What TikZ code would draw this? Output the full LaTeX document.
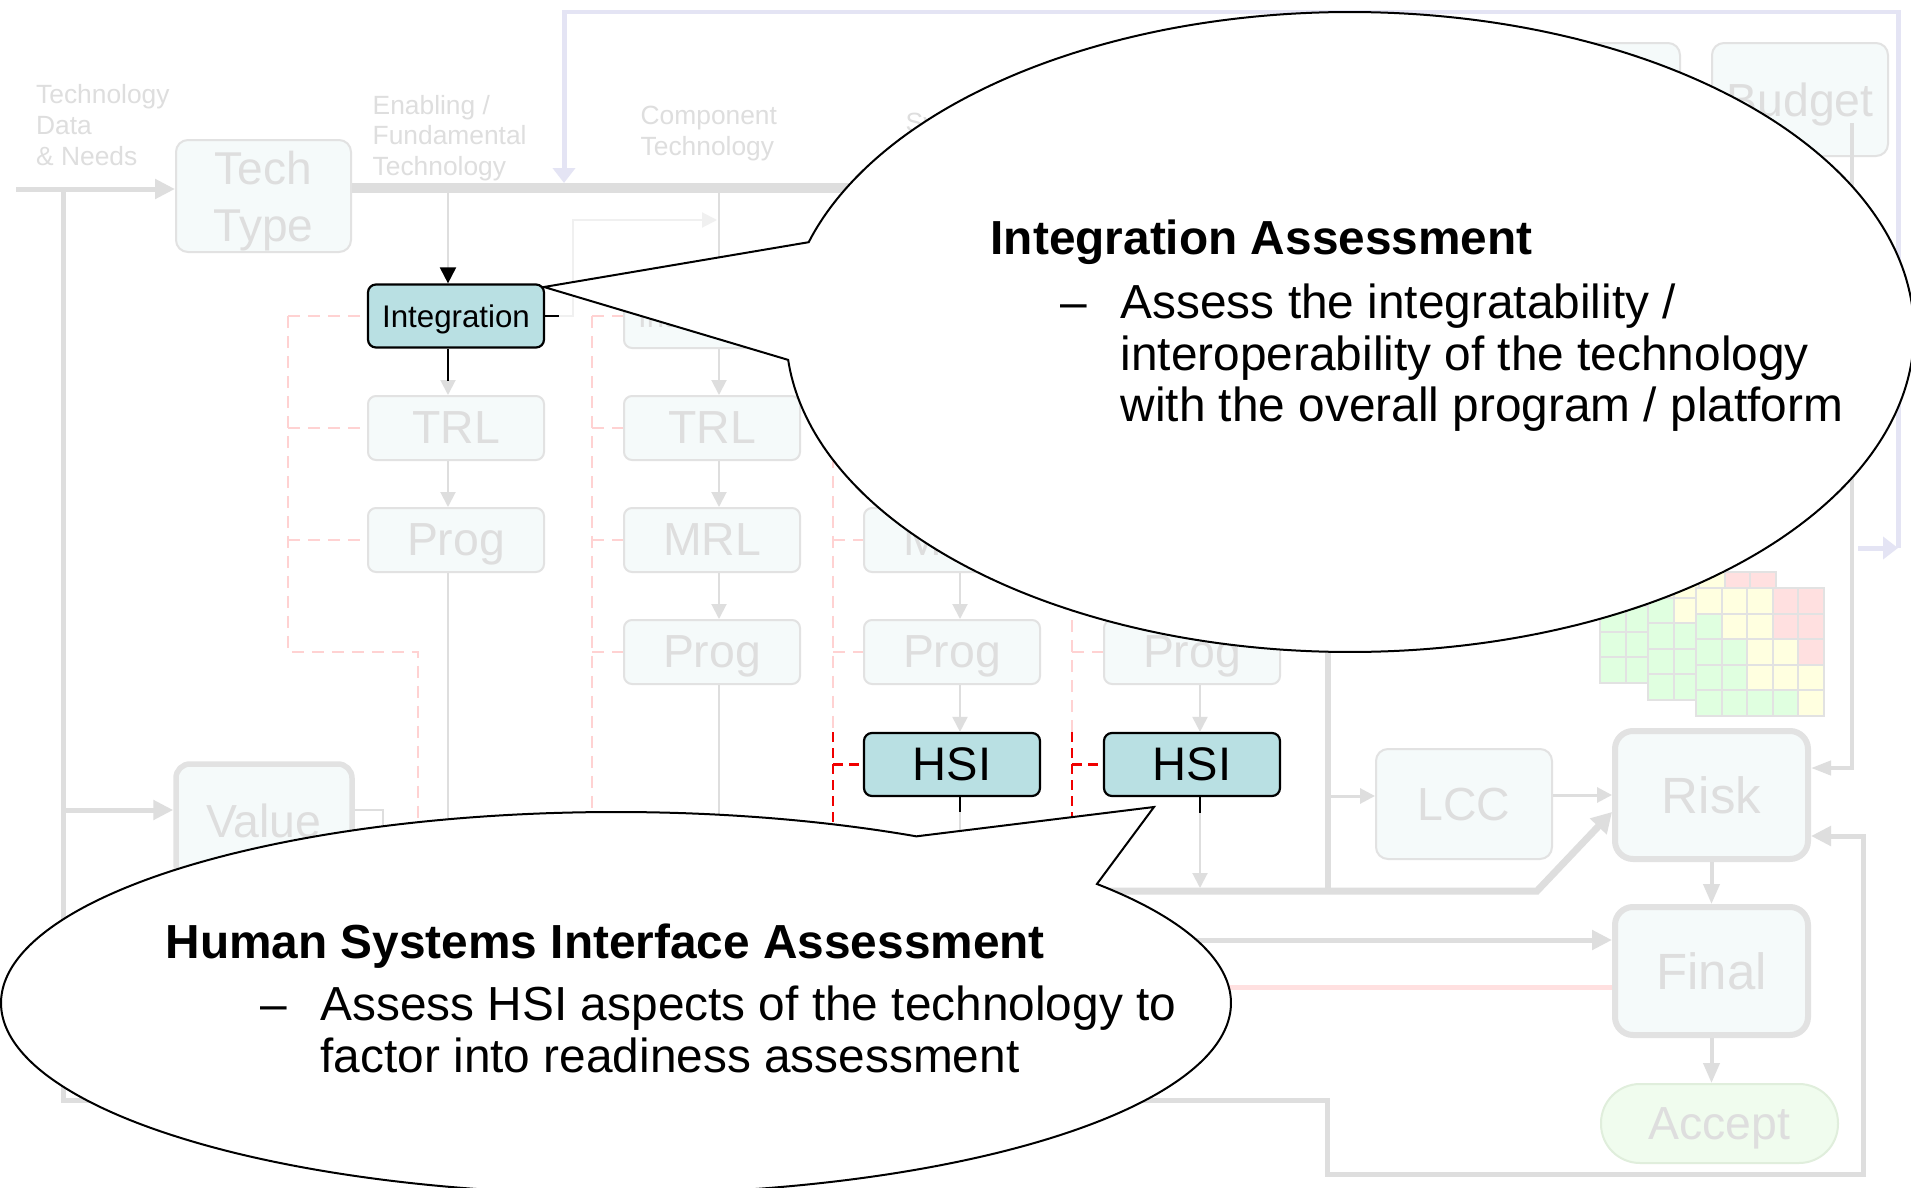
\documentclass[tikz,border=0pt]{standalone}
\usepackage{fontspec}
\setmainfont{Liberation Sans}
\usetikzlibrary{arrows.meta,calc}

\definecolor{fadeline}{HTML}{DEDEDE}
\definecolor{fadetext}{HTML}{DEDEDE}
\definecolor{fadefill}{HTML}{F5FAFA}
\definecolor{fadeborder}{HTML}{E2E2E2}
\definecolor{hilite}{HTML}{B9E0E3}
\definecolor{pinkdash}{HTML}{FFD2D2}
\definecolor{reddash}{HTML}{F00000}
\definecolor{lavender}{HTML}{E4E4F4}
\definecolor{cellG}{HTML}{E0FFE0}
\definecolor{cellY}{HTML}{FFFFE0}
\definecolor{cellP}{HTML}{FFE0E0}
\definecolor{acceptfill}{HTML}{F0FCEE}
\definecolor{acceptline}{HTML}{E0EEDC}
\definecolor{faint}{HTML}{F0F0F0}
\definecolor{pinkline}{HTML}{FFE0E0}

\begin{document}
\begin{tikzpicture}[x=0.1mm,y=-0.1mm,
  fadebox/.style={draw=fadeborder, fill=fadefill, line width=0.2mm, rounded corners=0.8mm,
    minimum width=17.6mm, minimum height=6.4mm, inner sep=0pt, text=fadetext, text depth=0pt,
    font=\fontsize{13.2}{15}\selectfont},
  hibox/.style={draw=black, fill=hilite, line width=0.22mm, rounded corners=0.8mm,
    minimum width=17.6mm, minimum height=6.3mm, inner sep=0pt, text=black, text depth=0pt,
    font=\fontsize{13.4}{15}\selectfont},
  smalllabel/.style={font=\fontsize{8.9}{10}\selectfont},
  bigbox/.style={fadebox, line width=0.6mm, rounded corners=1.8mm, minimum width=19.3mm,
    minimum height=12.8mm, font=\fontsize{14.5}{16}\selectfont},
  fadeln/.style={draw=fadeline, line width=0.2mm},
  medln/.style={draw=fadeline, line width=0.4mm},
  thickln/.style={draw=fadeline, line width=0.5mm},
  barln/.style={draw=fadeline, line width=1mm},
  hilink/.style={draw=black, line width=0.22mm},
  pinkd/.style={draw=pinkdash, line width=0.2mm, dash pattern=on 1.2mm off 0.8mm},
  redd/.style={draw=reddash, line width=0.22mm, dash pattern=on 1mm off 0.6mm},
  lav/.style={draw=lavender, line width=0.5mm},
  tipS/.style={-{Triangle[length=1.5mm,width=1.5mm]}},
  tipL/.style={-{Triangle[length=2mm,width=2mm]}},
  hdr/.style={anchor=base west, inner sep=0pt, text=fadetext, font=\fontsize{7.5}{9}\selectfont},
  cell/.style={draw=fadeborder, line width=0.2mm},
  callout/.style={draw=black, fill=white, line width=0.2mm},
  ctext/.style={anchor=base west, inner sep=0pt, text=black, font=\fontsize{13.6}{15}\selectfont},
  chead/.style={ctext, font=\fontsize{13.6}{15}\selectfont\bfseries}
]
\useasboundingbox (0,0) rectangle (1911,1188);
\clip (0,0) rectangle (1911,1188);
\fill[white] (0,0) rectangle (1911,1188);

% ---------- column guide coordinates ----------
\coordinate (c1) at (448,0);
\coordinate (c2) at (719,0);
\coordinate (c3) at (960,0);
\coordinate (c4) at (1200,0);
\coordinate (d1) at (288,0);
\coordinate (d2) at (592,0);
\coordinate (d3) at (833,0);
\coordinate (d4) at (1072,0);

% ---------- column headings ----------
\node[hdr] (h1a) at (35.5,103.4) {Technology};
\node[hdr] (h1b) at (35.5,134) {Data};
\node[hdr] (h1c) at (35.5,165.5) {\& Needs};
\node[hdr] (h2a) at (372,114) {Enabling /};
\node[hdr] (h2b) at (372,144.5) {Fundamental};
\node[hdr] (h2c) at (372,175.5) {Technology};
\node[hdr] (h3a) at (640,124.5) {Component};
\node[hdr] (h3b) at (640,155) {Technology};
\node[hdr] (h4a) at (905,131) {System};

% ---------- process boxes ----------
\node[fadebox, minimum width=17.5mm, minimum height=11.2mm, rounded corners=1.2mm,
      align=center, font=\fontsize{13.1}{16.2}\selectfont] (techtype) at (263.5,196) {Tech\\Type};
\node[fadebox, line width=0.55mm, rounded corners=1.4mm, minimum width=17.6mm,
      minimum height=11.4mm] (value) at (264,821) {Value};

\node[hibox, smalllabel] (int1) at (456,316) {Integration};
\node[fadebox] (trl1) at (456,428) {TRL};
\node[fadebox] (prog1) at (456,540) {Prog};

\node[fadebox, smalllabel] (int2) at (712,316) {Integration};
\node[fadebox] (trl2) at (712,428) {TRL};
\node[fadebox] (mrl2) at (712,540) {MRL};
\node[fadebox] (prog2) at (712,652) {Prog};

\node[fadebox] (mrl3) at (952,540) {MRL};
\node[fadebox] (prog3) at (952,652) {Prog};
\node[hibox] (hsi3) at (952,764.5) {HSI};

\node[fadebox] (prog4) at (1192,652) {Prog};
\node[hibox] (hsi4) at (1192,764.5) {HSI};

\node[fadebox, minimum height=11.3mm, rounded corners=1.2mm] (topbox) at (1592,99.5) {};
\node[fadebox, minimum height=11.3mm, rounded corners=1.2mm] (budget) at (1800,99.5) {Budget};

\node[fadebox, minimum height=11mm, rounded corners=1.2mm] (lcc) at (1464,804) {LCC};
\node[bigbox] (risk) at (1711.5,795) {Risk};
\node[bigbox] (final) at (1711.5,971) {Final};
\node[fadebox, draw=acceptline, fill=acceptfill, minimum width=23.7mm, minimum height=7.9mm,
      rounded corners=3.9mm] (accept) at (1719.5,1123.5) {Accept};

% ---------- risk matrices ----------
\foreach \ox/\oy in {1600/555,1648/572,1696/588}{
  \foreach \r/\qa/\qb/\qc/\qd/\qe in {0/Y/Y/Y/P/P,1/G/Y/Y/P/P,2/G/G/Y/Y/P,3/G/G/Y/Y/Y,4/G/G/G/G/Y}{
    \foreach \k/\qq in {0/\qa,1/\qb,2/\qc,3/\qd,4/\qe}{
      \filldraw[cell, fill=cell\qq] (\ox+25.6*\k,\oy+25.6*\r) rectangle ++(25.6,25.6);
    }
  }
}

% ---------- junction points ----------
\coordinate (split) at (63,189);
\coordinate (vsplit) at (63,810);
\coordinate (corner1) at (63,1100);
\coordinate (ret) at (0,836);
\coordinate (busL) at (0,188);
\coordinate (busend) at (1100,188);
\coordinate (bus1) at (448,193);
\coordinate (bus2) at (719,193);
\coordinate (lowbar) at (0,891);
\coordinate (bend) at (1537,891);
\coordinate (diag) at (0,812);
\coordinate (lccy) at (0,796);
\coordinate (trunk) at (1328,652);
\coordinate (bstem) at (1852,123);
\coordinate (rin) at (0,768);
\coordinate (fin) at (0,940);
\coordinate (fpink) at (0,987);
\coordinate (lavstart) at (1858,548);
\coordinate (lavcorner) at (1898,548);

% ---------- main flow ----------
\draw[thickln, -{Triangle[length=2mm,width=1.9mm]}] (16,189) -- (techtype.west |- split);
\draw[barln] (techtype.east |- busL) -- (busend);
\draw[thickln, -{Triangle[length=2mm,width=1.9mm]}] (split) -- (corner1) -- (1327,1100)
   -- (1327,1174) -- (1863,1174) -- (1863,836) -- (risk.east |- ret);
\draw[thickln, -{Triangle[length=2mm,width=1.9mm]}] (vsplit) -- (value.west |- vsplit);
\draw[fadeln] (value.east |- vsplit) -- (383,810) -- (383,900);

% lavender feedback loop
\draw[lav, -{Triangle[length=1.5mm,width=2.2mm]}] (lavcorner) -- (1898,12) -- (564,12) -- (564,183);
\draw[lav, -{Triangle[length=1.5mm,width=2.2mm]}] (lavstart) -- (lavcorner);

% column 1
\draw[fadeln, -{Triangle[length=1.6mm,width=1.6mm,color=black]}] (bus1) -- (int1.north -| c1);
\draw[fadeln, tipS] (int1.south -| c1) -- (trl1.north -| c1);
\draw[hilink] (int1.south -| c1) -- ++(0,32);
\draw[fadeln, tipS] (trl1.south -| c1) -- (prog1.north -| c1);
\draw[fadeln] (prog1.south -| c1) -- (c1 |- lowbar);
\draw[draw=faint, line width=0.2mm, -{Triangle[length=1.5mm,width=1.5mm]}]
   (559,316) -- (573,316) -- (573,220) -- (717,220);
\draw[hilink] (int1.east |- 0,316) -- (559,316);

% column 2
\draw[fadeln, tipS] (bus2) -- (int2.north -| c2);
\draw[fadeln, tipS] (int2.south -| c2) -- (trl2.north -| c2);
\draw[fadeln, tipS] (trl2.south -| c2) -- (mrl2.north -| c2);
\draw[fadeln, tipS] (mrl2.south -| c2) -- (prog2.north -| c2);
\draw[fadeln] (prog2.south -| c2) -- (c2 |- lowbar);

% column 3
\draw[fadeln, tipS] (mrl3.south -| c3) -- (prog3.north -| c3);
\draw[fadeln, tipS] (prog3.south -| c3) -- (hsi3.north -| c3);
\draw[fadeln] (hsi3.south -| c3) -- (c3 |- lowbar);
\draw[hilink] (hsi3.south -| c3) -- ++(0,15);

% column 4
\draw[fadeln, tipS] (prog4.south -| c4) -- (hsi4.north -| c4);
\draw[fadeln, tipS] (hsi4.south -| c4) -- (c4 |- 0,888);
\draw[hilink] (hsi4.south -| c4) -- ++(0,16);

% dashed side links
\draw[pinkd] (d1 |- int1.west) -- (d1 |- 0,652) -- (418,652) -- (418,900);
\foreach \n in {int1,trl1,prog1} \draw[pinkd] (d1 |- \n.west) -- (\n.west);
\draw[pinkd] (d2 |- int2.west) -- (d2 |- 0,900);
\foreach \n in {int2,trl2,mrl2,prog2} \draw[pinkd] (d2 |- \n.west) -- (\n.west);
\draw[pinkd] (d3 |- int2.west) -- (d3 |- 0,732);
\foreach \n in {mrl3,prog3} \draw[pinkd] (d3 |- \n.west) -- (\n.west);
\draw[pinkd] (d4 |- 0,560) -- (d4 |- 0,732);
\draw[pinkd] (d4 |- prog4.west) -- (prog4.west);
\draw[redd] (d3 |- 0,732) -- (d3 |- 0,840);
\draw[redd] (d3 |- hsi3.west) -- (hsi3.west);
\draw[redd] (d4 |- 0,732) -- (d4 |- 0,840);
\draw[redd] (d4 |- hsi4.west) -- (hsi4.west);

% assessment collector and roll-up
\draw[draw=fadeline, line width=0.7mm, -{Triangle[length=2mm,width=2.2mm]}]
   (c1 |- lowbar) -- (bend) -- (risk.west |- diag);
\draw[draw=fadeline, line width=0.6mm] (trunk) -- (trunk |- lowbar);
\draw[draw=fadeline, line width=0.3mm, tipS] (trunk |- lccy) -- (lcc.west |- lccy);
\draw[draw=fadeline, line width=0.3mm, tipS] (lcc.east |- 0,795) -- (risk.west |- 0,795);
\draw[medln, -{Triangle[length=2mm,width=1.6mm]}] (risk.south) -- (final.north);
\draw[medln, -{Triangle[length=2mm,width=1.6mm]}] (final.south) -- (accept.north -| final.south);
\draw[thickln, -{Triangle[length=2mm,width=1.9mm]}] (700,940) -- (final.west |- fin);
\draw[draw=pinkline, line width=0.5mm] (700,987) -- (final.west |- fpink);
\draw[medln, -{Triangle[length=2mm,width=1.4mm]}] (bstem) -- (bstem |- rin) -- (risk.east |- rin);

% ---------- callout: integration ----------
\coordinate (tip1) at (544,287);
\draw[callout] plot[domain=196.3:535, samples=360, variable=\t]
   ({1350+564*cos(\t)},{332+320*sin(\t)}) -- (tip1) -- cycle;
\node[chead] (ia) at (990,254.5) {Integration Assessment};
\node[ctext] (iadash) at (1060,318) {–};
\node[ctext] (ia1) at (1120,318) {Assess the integratability /};
\node[ctext] (ia2) at (1120,370) {interoperability of the technology};
\node[ctext] (ia3) at (1120,421.5) {with the overall program / platform};

% ---------- callout: human systems interface ----------
\coordinate (tip2) at (1154,807);
\draw[callout] plot[domain=-38.55:299.24, samples=360, variable=\t]
   ({616+615*cos(\t)},{1003+191*sin(\t)}) -- (tip2) -- cycle;
\node[chead] (ha) at (165,958) {Human Systems Interface Assessment};
\node[ctext] (hadash) at (260,1020.5) {–};
\node[ctext] (ha1) at (320,1020.5) {Assess HSI aspects of the technology to};
\node[ctext] (ha2) at (320,1072) {factor into readiness assessment};
\end{tikzpicture}
\end{document}
